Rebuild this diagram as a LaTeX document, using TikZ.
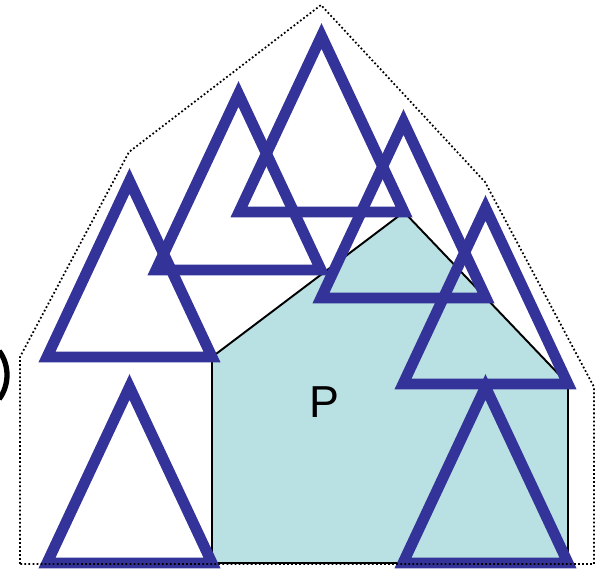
\documentclass[tikz,border=0pt]{standalone}
\usepackage{fontspec}
\setsansfont{Liberation Sans}
\usepackage{tikz}
\definecolor{robotblue}{RGB}{51,51,153}
\definecolor{obstaclefill}{RGB}{185,224,227}
\tikzset{
    robot/.style={draw=robotblue, line width=6.2pt, line join=miter},
    obstacle/.style={draw=black, line width=1.1pt, fill=obstaclefill},
    hull/.style={draw=black, line width=1pt, dash pattern=on 1pt off 1.3pt},
    label/.style={font=\sffamily\fontsize{25.5}{25.5}\selectfont, inner sep=0pt}
}
\begin{document}
\begin{tikzpicture}[x=0.02cm, y=-0.02cm]
    \useasboundingbox (0,0) rectangle (602,570);
    \clip (0,0) rectangle (602,570);
    % obstacle P
    \coordinate (pa) at (212,563);
    \coordinate (pb) at (212,357);
    \coordinate (pm1) at (321,270);
    \coordinate (pc) at (404,212);
    \coordinate (pm2) at (486,298);
    \coordinate (pd) at (568,384);
    \coordinate (pe) at (568,563);
    \draw[obstacle] (pa) -- (pb) -- (pc) -- (pd) -- (pe) -- cycle;
    \node[label] (plabel) at (324,402) {P};
    % robot placed at the boundary points
    \foreach \v in {pa,pb,pm1,pc,pm2,pd,pe}
        \draw[robot] (\v) -- ++(-165,0) -- ++(82.5,-176) -- cycle;
    % grown obstacle
    \draw[hull] (20,564) -- (20,357) -- (129,152) -- (321,5) -- (485,182)
        -- (594,387) -- (594,564) -- cycle;
    % cut-off arc at the left edge
    \draw[line width=3pt] (-34,375) ++(-36:0.82cm) arc[start angle=-36, end angle=36, radius=0.82cm];
\end{tikzpicture}
\end{document}
